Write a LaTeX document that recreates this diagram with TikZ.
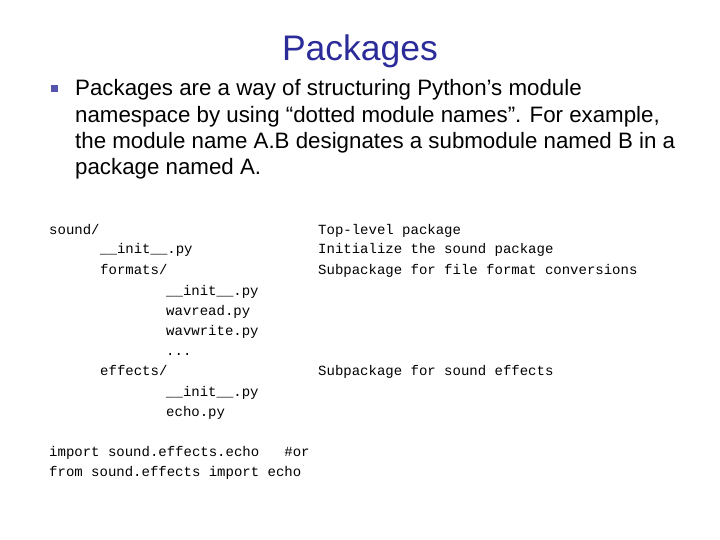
\documentclass[tikz,border=0pt]{standalone}
\usepackage{fontspec}
\setmainfont{Liberation Sans}
\newfontfamily\cmono{Liberation Mono}
\definecolor{ttl}{HTML}{2B2B9A}
\begin{document}
\begin{tikzpicture}[x=1pt,y=-1pt,
  body/.style={anchor=base west,inner sep=0pt,font=\fontsize{22.3}{26}\selectfont},
  code/.style={anchor=base west,inner sep=0pt,font=\cmono\fontsize{14}{16}\selectfont}]
\useasboundingbox[fill=white] (0,0) rectangle (720,540);
\node[anchor=base,inner sep=0pt,text=ttl,font=\fontsize{35.5}{38}\selectfont] (title) at (360,61) {Packages};
\fill[ttl!80] (51,85) rectangle (58,92);
\node[body] (b1) at (75,96) {Packages are a way of structuring Python’s module};
\node[body] (b2) at (75,123) {namespace by using “dotted module names”. For example,};
\node[body] (b3) at (75,149) {the module name A.B designates a submodule named B in a};
\node[body] (b4) at (75,175) {package named A.};
\node[code] (c1) at (49,234) {sound/};
\node[code] (c2) at (100,254) {\_\_init\_\_.py};
\node[code] (c3) at (100,274) {formats/};
\node[code] (c4) at (166,295) {\_\_init\_\_.py};
\node[code] (c5) at (166,315) {wavread.py};
\node[code] (c6) at (166,335) {wavwrite.py};
\node[code] (c7) at (166,355) {...};
\node[code] (c8) at (100,375) {effects/};
\node[code] (c9) at (166,396) {\_\_init\_\_.py};
\node[code] (c10) at (166,416) {echo.py};
\node[code] (d1) at (318,234) {Top-level package};
\node[code] (d2) at (318,254) {Initialize the sound package};
\node[code] (d3) at (318,274) {Subpackage for file format conversions};
\node[code] (d4) at (318,375) {Subpackage for sound effects};
\node[code] (i1) at (49,456) {import sound.effects.echo\ \ \ \#or};
\node[code] (i2) at (49,476) {from sound.effects import echo};
\end{tikzpicture}
\end{document}
